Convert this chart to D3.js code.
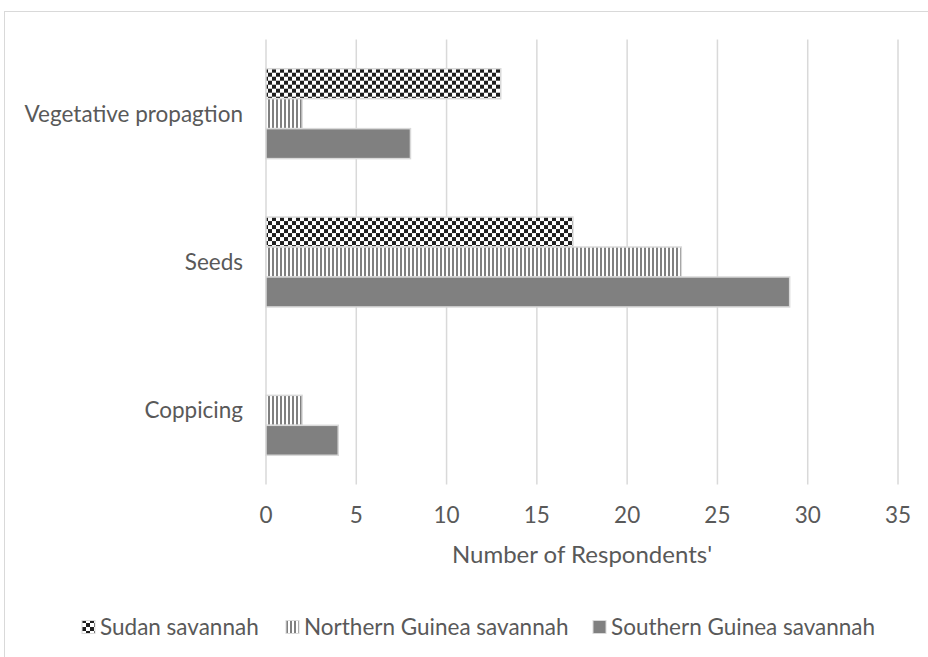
<!DOCTYPE html>
<html>
  <head>
    <meta charset="utf-8" />
    <script src="https://cdnjs.cloudflare.com/ajax/libs/d3/7.8.5/d3.min.js"></script>
    <style>
      body { margin: 0; background: #fff; }
      svg { display: block; font-family: Lato, "Liberation Sans", sans-serif; }
      text { fill: #595959; }
    </style>
  </head>
  <body>
    <svg width="928" height="657"></svg>
    <script>
      // data
      const categories = ["Vegetative propagtion", "Seeds", "Coppicing"];
      const seriesNames = ["Sudan savannah", "Northern Guinea savannah", "Southern Guinea savannah"];
      const sudan = [13, 17, 0];
      const northern = [2, 23, 2];
      const southern = [8, 29, 4];
      const xTicks = [0, 5, 10, 15, 20, 25, 30, 35];

      const seriesValues = [sudan, northern, southern];
      const fontSize = 22.5;

      const svg = d3.select("svg");
      const defs = svg.append("defs");

      // checkerboard pattern
      const chk = defs.append("pattern").attr("id", "chk")
        .attr("patternUnits", "userSpaceOnUse").attr("width", 8).attr("height", 8);
      chk.append("rect").attr("width", 8).attr("height", 8).attr("fill", "#fff");
      chk.append("rect").attr("width", 4).attr("height", 4).attr("fill", "#1e1e1e");
      chk.append("rect").attr("x", 4).attr("y", 4).attr("width", 4).attr("height", 4).attr("fill", "#1e1e1e");

      // vertical stripe pattern
      const vst = defs.append("pattern").attr("id", "vst")
        .attr("patternUnits", "userSpaceOnUse").attr("width", 4).attr("height", 4);
      vst.append("rect").attr("width", 4).attr("height", 4).attr("fill", "#fff");
      vst.append("rect").attr("width", 2).attr("height", 4).attr("fill", "#808080");

      const fills = ["url(#chk)", "url(#vst)", "#808080"];

      // outer chart border (cropped by the page)
      svg.append("rect").attr("x", 4.5).attr("y", 11.5).attr("width", 1000).attr("height", 1000)
        .attr("fill", "none").attr("stroke", "#d9d9d9");

      const x = d3.scaleLinear().domain([0, 35]).range([266, 898]);
      const y = d3.scaleBand().domain(categories).range([39.5, 484.5])
        .paddingInner(0.394).paddingOuter(0.197);
      const ySub = d3.scaleBand().domain(d3.range(seriesNames.length)).range([0, y.bandwidth()]);

      // gridlines
      svg.append("g").selectAll("line").data(xTicks).join("line")
        .attr("x1", d => x(d)).attr("x2", d => x(d))
        .attr("y1", 39.5).attr("y2", 484.5)
        .attr("stroke", "#d9d9d9").attr("stroke-width", 1.5);

      // bars
      const groups = svg.append("g").selectAll("g").data(categories).join("g")
        .attr("transform", d => `translate(0,${y(d)})`);
      groups.selectAll("rect")
        .data((c, ci) => seriesValues.map((vals, si) => ({ si, v: vals[ci] })).filter(d => d.v > 0))
        .join("rect")
        .attr("x", x(0))
        .attr("y", d => ySub(d.si))
        .attr("width", d => x(d.v) - x(0))
        .attr("height", ySub.bandwidth())
        .attr("fill", d => fills[d.si])
        .attr("stroke", "#d9d9d9")
        .attr("stroke-width", 1.5);

      // category labels
      svg.append("g").selectAll("text").data(categories).join("text")
        .attr("x", 243)
        .attr("y", d => y(d) + y.bandwidth() / 2)
        .attr("dy", "0.35em")
        .attr("text-anchor", "end")
        .attr("font-size", fontSize)
        .text(d => d);

      // x tick labels
      svg.append("g").selectAll("text").data(xTicks).join("text")
        .attr("x", d => x(d))
        .attr("y", 515)
        .attr("dy", "0.35em")
        .attr("text-anchor", "middle")
        .attr("font-size", fontSize)
        .text(d => d);

      // axis title
      svg.append("text")
        .attr("x", (x(0) + x(35)) / 2)
        .attr("y", 555)
        .attr("dy", "0.35em")
        .attr("text-anchor", "middle")
        .attr("font-size", 24)
        .text("Number of Respondents'");

      // legend
      const legendX = [82, 286, 593];
      const leg = svg.append("g").selectAll("g").data(seriesNames).join("g")
        .attr("transform", (d, i) => `translate(${legendX[i]},627)`);
      leg.append("rect")
        .attr("x", 0).attr("y", -6.5).attr("width", 13).attr("height", 13)
        .attr("fill", (d, i) => fills[i])
        .attr("stroke", "#d9d9d9");
      leg.append("text")
        .attr("x", 18).attr("y", 0).attr("dy", "0.35em")
        .attr("font-size", fontSize)
        .text(d => d);
    </script>
  </body>
</html>
